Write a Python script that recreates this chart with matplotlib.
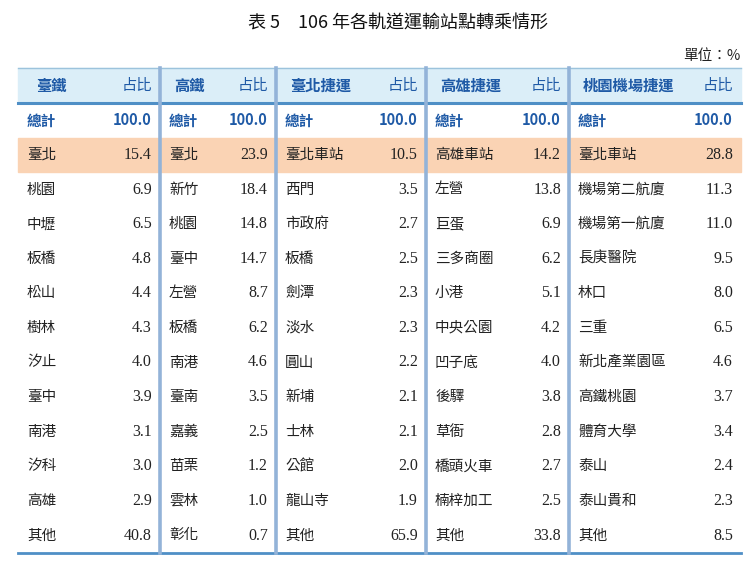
import matplotlib
matplotlib.use("Agg")
import matplotlib.pyplot as plt
from matplotlib.patches import Rectangle

plt.rcParams['font.family'] = ['Noto Sans CJK TC', 'DejaVu Sans']

headers = ["臺鐵", "高鐵", "臺北捷運", "高雄捷運", "桃園機場捷運"]
tra_names = ["總計", "臺北", "桃園", "中壢", "板橋", "松山", "樹林", "汐止", "臺中", "南港", "汐科", "高雄", "其他"]
tra_vals = [100.0, 15.4, 6.9, 6.5, 4.8, 4.4, 4.3, 4.0, 3.9, 3.1, 3.0, 2.9, 40.8]
hsr_names = ["總計", "臺北", "新竹", "桃園", "臺中", "左營", "板橋", "南港", "臺南", "嘉義", "苗栗", "雲林", "彰化"]
hsr_vals = [100.0, 23.9, 18.4, 14.8, 14.7, 8.7, 6.2, 4.6, 3.5, 2.5, 1.2, 1.0, 0.7]
tpe_names = ["總計", "臺北車站", "西門", "市政府", "板橋", "劍潭", "淡水", "圓山", "新埔", "士林", "公館", "龍山寺", "其他"]
tpe_vals = [100.0, 10.5, 3.5, 2.7, 2.5, 2.3, 2.3, 2.2, 2.1, 2.1, 2.0, 1.9, 65.9]
khh_names = ["總計", "高雄車站", "左營", "巨蛋", "三多商圈", "小港", "中央公園", "凹子底", "後驛", "草衙", "橋頭火車", "楠梓加工", "其他"]
khh_vals = [100.0, 14.2, 13.8, 6.9, 6.2, 5.1, 4.2, 4.0, 3.8, 2.8, 2.7, 2.5, 33.8]
tya_names = ["總計", "臺北車站", "機場第二航廈", "機場第一航廈", "長庚醫院", "林口", "三重", "新北產業園區", "高鐵桃園", "體育大學", "泰山", "泰山貴和", "其他"]
tya_vals = [100.0, 28.8, 11.3, 11.0, 9.5, 8.0, 6.5, 4.6, 3.7, 3.4, 2.4, 2.3, 8.5]

groups = [(tra_names, tra_vals), (hsr_names, hsr_vals), (tpe_names, tpe_vals),
          (khh_names, khh_vals), (tya_names, tya_vals)]
bounds = [18, 160, 276, 426, 569, 741]

fig = plt.figure(figsize=(7.53, 5.66), dpi=100)
ax = fig.add_axes([0, 0, 1, 1])
ax.set_xlim(0, 753); ax.set_ylim(566, 0); ax.axis('off')

blue = '#1f5aa6'
ax.text(398, 24, "表 5　106 年各軌道運輸站點轉乘情形", ha='center', va='center', fontsize=13, color='#111')
ax.text(741, 56, "單位：%", ha='right', va='center', fontsize=10.5, color='#222')

top, hb = 68, 103
ax.add_patch(Rectangle((18, top), 723, hb - top, color='#dbeef8', zorder=0))
ax.plot([18, 741], [top, top], color='#9cc3dc', lw=1)
ax.plot([18, 741], [hb, hb], color='#4f8fc6', lw=2.2)
rowh = 34.6
ax.add_patch(Rectangle((18, hb + rowh), 723, rowh, color='#fad3b4', zorder=0))
bottom = hb + 13 * rowh
ax.plot([18, 741], [bottom, bottom], color='#4f8fc6', lw=2)
for xb in bounds[1:-1]:
    ax.plot([xb, xb], [top, bottom], color='#93b3d8', lw=2.6, zorder=3)

for i, (names, vals) in enumerate(groups):
    x0, x1 = bounds[i], bounds[i + 1]
    hx = x0 + 14 if i else x0 + 18
    ax.text(hx, (top + hb) / 2, headers[i], ha='left', va='center', fontsize=11,
            color=blue, fontweight='bold')
    ax.text(x1 - 8, (top + hb) / 2, "占比", ha='right', va='center', fontsize=11,
            color=blue)
    for r, (n, v) in enumerate(zip(names, vals)):
        y = hb + rowh * (r + 0.5)
        if r == 0:
            ax.text(x0 + 9, y, n, ha='left', va='center', fontsize=10.5, color=blue, fontweight='bold')
            ax.text(x1 - 8, y, f"{v:.1f}", ha='right', va='center', fontsize=10.5, color=blue, fontweight='bold')
        else:
            ax.text(x0 + 9, y, n, ha='left', va='center', fontsize=10.5, color='#222')
            ax.text(x1 - 8, y, f"{v:.1f}", ha='right', va='center', fontsize=11.5, color='#222',
                    family=['Liberation Serif', 'DejaVu Serif'])

fig.savefig("out.png", dpi=100)
